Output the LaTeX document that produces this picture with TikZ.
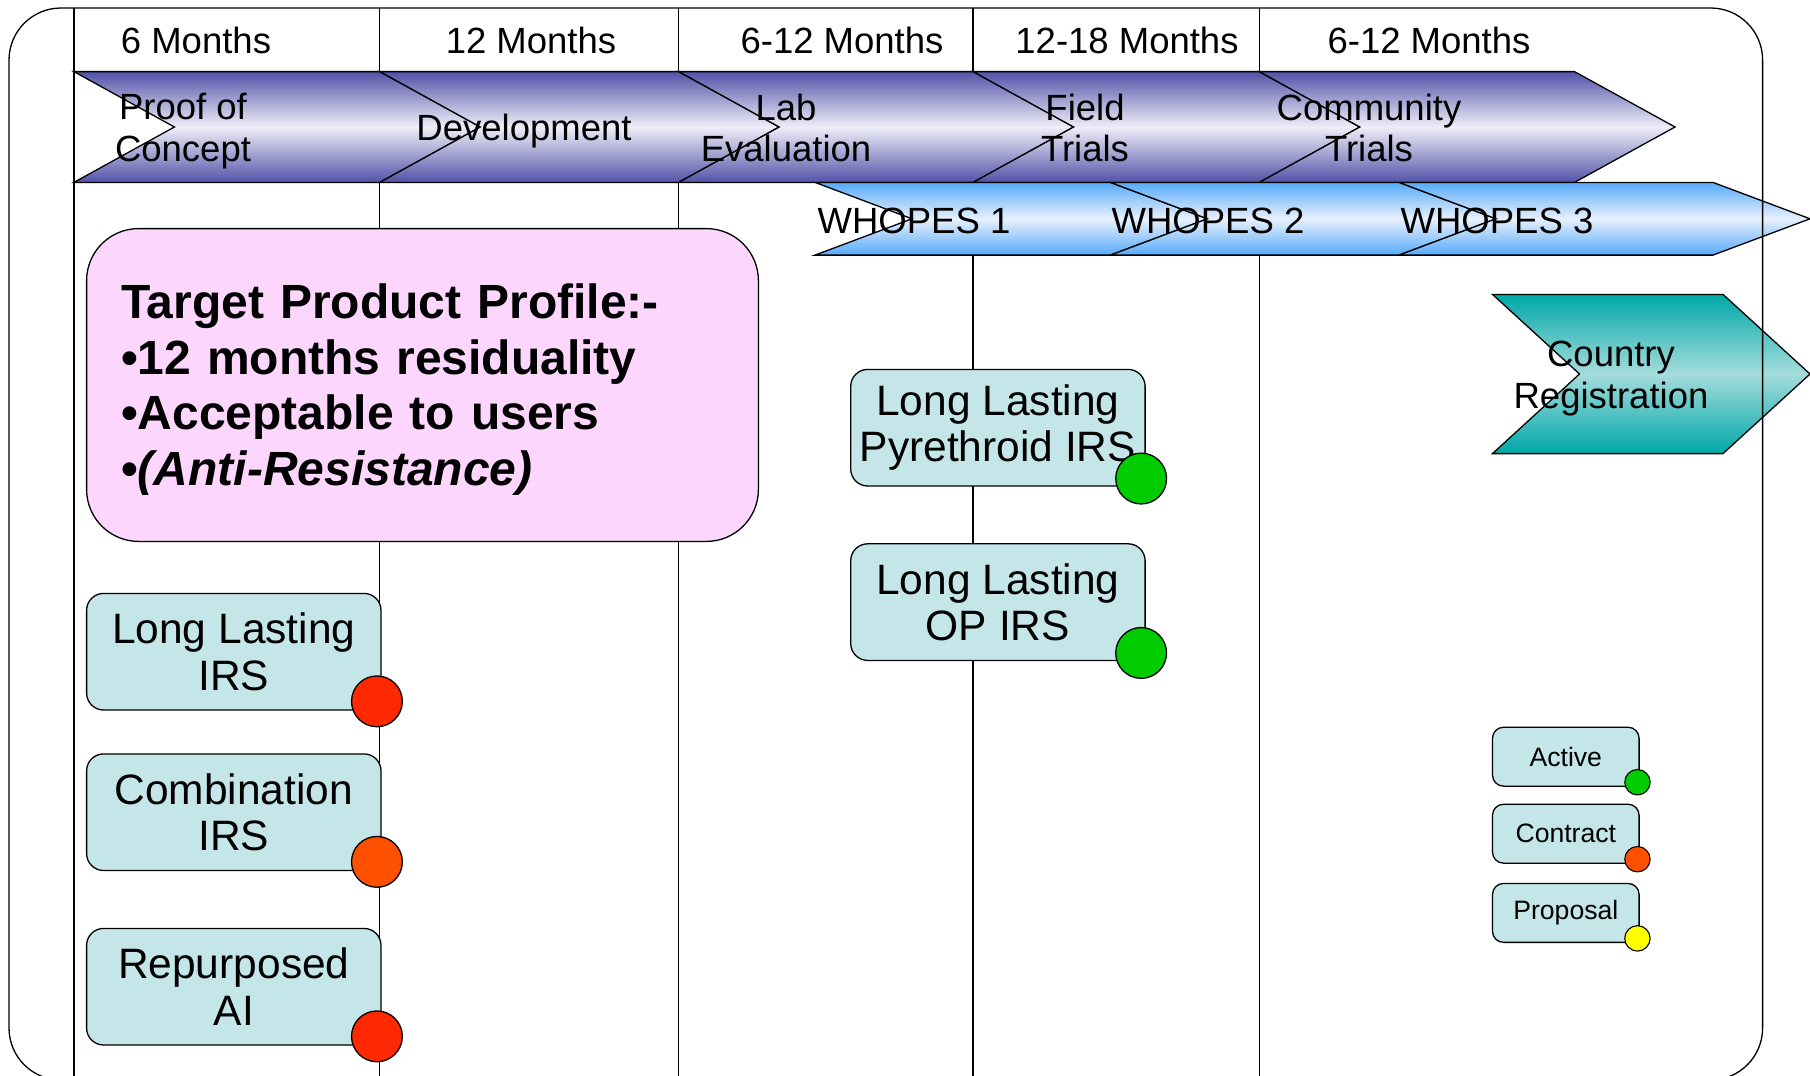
\documentclass[tikz,border=0pt]{standalone}
\usepackage{fontspec}
\setmainfont{Liberation Sans}
\definecolor{phasepurple}{RGB}{82,82,168}
\definecolor{phaselight}{RGB}{238,238,248}
\definecolor{whoblue}{RGB}{86,170,250}
\definecolor{wholight}{RGB}{232,240,252}
\definecolor{regteal}{RGB}{0,168,168}
\definecolor{reglight}{RGB}{165,220,220}
\definecolor{tpppink}{RGB}{252,214,252}
\definecolor{boxcyan}{RGB}{196,230,232}
\definecolor{dotred}{RGB}{255,40,0}
\definecolor{dotorange}{RGB}{255,80,0}
\definecolor{dotgreen}{RGB}{0,204,0}
\definecolor{dotyellow}{RGB}{255,255,0}
\usetikzlibrary{positioning}

\newcommand{\hdrfont}{\fontsize{36.5}{41.7}\selectfont}
\newcommand{\boxfont}{\fontsize{42.5}{46.5}\selectfont}
\newcommand{\tppfont}{\fontsize{48}{55.4}\selectfont\bfseries}
\newcommand{\legfont}{\fontsize{26.6}{30}\selectfont}

\begin{document}
\begin{tikzpicture}[x=1pt, y=-1pt,
    frame/.style={draw=black, line width=1.3pt},
    phasechev/.style={draw=black, line width=1.3pt, top color=phasepurple, bottom color=phasepurple, middle color=phaselight},
    whochev/.style={draw=black, line width=1.3pt, top color=whoblue, bottom color=whoblue, middle color=wholight},
    regchev/.style={draw=black, line width=1.3pt, top color=regteal, bottom color=regteal, middle color=reglight},
    hdr/.style={anchor=base, inner sep=0pt, font=\hdrfont},
    chevlabel/.style={align=center, inner sep=0pt, font=\hdrfont},
    tppbox/.style={draw=black, line width=1.3pt, fill=tpppink, rounded corners=52pt, text width=603pt, inner xsep=34.4pt, inner ysep=0pt, minimum height=312.8pt, align=left, font=\tppfont},
    probox/.style={draw=black, line width=1.3pt, fill=boxcyan, rounded corners=17pt, minimum width=294.4pt, minimum height=116.6pt, align=center, inner sep=0pt, font=\boxfont},
    legbox/.style={probox, rounded corners=11pt, minimum width=146.6pt, minimum height=58.9pt, font=\legfont},
    bigdot/.style={circle, draw=black, line width=1.3pt, minimum size=50.8pt, inner sep=0pt},
    smalldot/.style={circle, draw=black, line width=1.1pt, minimum size=25.4pt, inner sep=0pt}]

    \useasboundingbox (0,0) rectangle (1810,1076);
    \clip (0,0) rectangle (1810,1076);

    % time columns
    \draw[frame] (73.9,8) -- (73.9,1076);
    \draw[frame] (379.8,8) -- (379.8,1076);
    \draw[frame] (678.7,8) -- (678.7,1076);
    \draw[frame] (973.1,8) -- (973.1,1076);
    \draw[frame] (1259.3,8) -- (1259.3,1076);

    % phases
    \path[phasechev] (73.9,71.6) -- (379.8,71.6) -- (480.3,127) -- (379.8,182.4) -- (73.9,182.4) -- (174.4,127) -- cycle;
    \path[phasechev] (379.8,71.6) -- (678.7,71.6) -- (779.2,127) -- (678.7,182.4) -- (379.8,182.4) -- (480.3,127) -- cycle;
    \path[phasechev] (678.7,71.6) -- (973.1,71.6) -- (1073.6,127) -- (973.1,182.4) -- (678.7,182.4) -- (779.2,127) -- cycle;
    \path[phasechev] (973.1,71.6) -- (1259.3,71.6) -- (1359.8,127) -- (1259.3,182.4) -- (973.1,182.4) -- (1073.6,127) -- cycle;
    \path[phasechev] (1259.3,71.6) -- (1574.5,71.6) -- (1675,127) -- (1574.5,182.4) -- (1259.3,182.4) -- (1359.8,127) -- cycle;

    % WHOPES steps
    \path[whochev] (815,182.4) -- (1110.4,182.4) -- (1207.4,218.8) -- (1110.4,255.1) -- (815,255.1) -- (912,218.8) -- cycle;
    \path[whochev] (1110.4,182.4) -- (1399,182.4) -- (1496,218.8) -- (1399,255.1) -- (1110.4,255.1) -- (1207.4,218.8) -- cycle;
    \path[whochev] (1399,182.4) -- (1713,182.4) -- (1810,218.8) -- (1713,255.1) -- (1399,255.1) -- (1496,218.8) -- cycle;

    % registration
    \path[regchev] (1492.5,294.4) -- (1723,294.4) -- (1810,374) -- (1723,453.6) -- (1492.5,453.6) -- (1579.5,374) -- cycle;

    % header
    \node[hdr] (hdr1) at (196,53.5) {6 Months};
    \node[hdr] (hdr2) at (531,53.5) {12 Months};
    \node[hdr] (hdr3) at (842,53.5) {6-12 Months};
    \node[hdr] (hdr4) at (1127,53.5) {12-18 Months};
    \node[hdr] (hdr5) at (1429,53.5) {6-12 Months};

    \node[chevlabel] (poc) at (183,131.4) {Proof of\\Concept};
    \node[hdr] (dev) at (524,140) {Development};
    \node[chevlabel] (labev) at (786,128) {Lab\\Evaluation};
    \node[chevlabel] (field) at (1085,128) {Field\\Trials};
    \node[chevlabel] (comm) at (1369,128) {Community\\Trials};

    \node[hdr] (who1) at (914,233.3) {WHOPES 1};
    \node[hdr] (who2) at (1208,233.3) {WHOPES 2};
    \node[hdr] (who3) at (1497,233.3) {WHOPES 3};

    \node[chevlabel] (reg) at (1611,378.6) {Country\\Registration};

    % target product profile
    \node[tppbox] (tpp) at (422.5,385) {\rule{0pt}{44pt}Target Product Profile:-\\\textbullet 12 months residuality\\\textbullet Acceptable to users\\\textbullet\textit{(Anti-Resistance)}};

    % products
    \node[probox] (llirs) at (233.8,651.7) {Long Lasting\\IRS};
    \node[probox, below=42.6pt of llirs] (combirs) {Combination\\IRS};
    \node[probox, below=56.6pt of combirs] (repai) {Repurposed\\AI};
    \node[probox] (llpyr) at (997.9,427.7) {Long Lasting\\Pyrethroid IRS};
    \node[probox, below=56.5pt of llpyr] (llop) {Long Lasting\\OP IRS};

    \node[bigdot, fill=dotred] (llirsdot) at ([shift={(-4.7,-9.3)}]llirs.south east) {};
    \node[bigdot, fill=dotorange] (combirsdot) at ([shift={(-4.7,-9.3)}]combirs.south east) {};
    \node[bigdot, fill=dotred] (repaidot) at ([shift={(-4.7,-9.3)}]repai.south east) {};
    \node[bigdot, fill=dotgreen] (llpyrdot) at ([shift={(-4.6,-8.1)}]llpyr.south east) {};
    \node[bigdot, fill=dotgreen] (llopdot) at ([shift={(-4.6,-8.1)}]llop.south east) {};

    % legend
    \node[legbox] (active) at (1565.8,756.7) {Active};
    \node[legbox, below=16.8pt of active] (contract) {Contract};
    \node[legbox, below=19pt of contract] (proposal) {Proposal};

    \node[smalldot, fill=dotgreen] (activedot) at ([shift={(-2.3,-4.6)}]active.south east) {};
    \node[smalldot, fill=dotorange] (contractdot) at ([shift={(-2.3,-4.6)}]contract.south east) {};
    \node[smalldot, fill=dotyellow] (proposaldot) at ([shift={(-2.3,-4.6)}]proposal.south east) {};

    % outer frame
    \draw[frame, rounded corners=52pt] (9,8) rectangle (1762.6,1080);
\end{tikzpicture}
\end{document}
